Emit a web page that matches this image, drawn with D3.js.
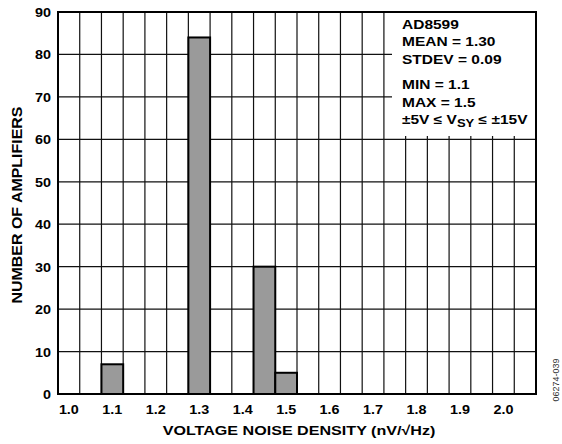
<!DOCTYPE html>
<html>
<head>
<meta charset="utf-8">
<script src="https://cdn.jsdelivr.net/npm/d3@7"></script>
<style>
  body { margin: 0; background: #fff; }
  svg text { font-family: "Liberation Sans", Arial, sans-serif; font-weight: bold; fill: #000; }
</style>
</head>
<body>
<div id="chart"></div>
<script>
// histogram data (bin centres, counts)
var binCenters = [1.1, 1.3, 1.45, 1.5]
var counts = [7, 84, 30, 5]
var binWidth = 0.05
var xTicks = [1.0, 1.1, 1.2, 1.3, 1.4, 1.5, 1.6, 1.7, 1.8, 1.9, 2.0]
var yTicks = [0, 10, 20, 30, 40, 50, 60, 70, 80, 90]
var legendLines = ['AD8599', 'MEAN = 1.30', 'STDEV = 0.09', 'MIN = 1.1', 'MAX = 1.5']

var W = 562, H = 444
var pL = 58, pR = 536, pT = 12, pB = 394

var svg = d3.select('#chart').append('svg').attr('width', W).attr('height', H)

var x = d3.scaleLinear().domain([0.975, 2.075]).range([pL, pR])
var y = d3.scaleLinear().domain([0, 90]).range([pB, pT])

// the original lettering is wider than Arial, so stretch it a bit
function label(px, py, sx, size, rot){
  var t = 'translate(' + px + ',' + py + ')' + (rot ? ' rotate(' + rot + ')' : '') + ' scale(' + sx + ',1)'
  return svg.append('text').attr('transform', t).attr('font-size', size)
}

// grid: vertical lines at bin edges
var edges = d3.range(1, 22).map(function(k){ return 0.975 + k*binWidth })
svg.append('g').selectAll('line').data(edges).enter().append('line')
  .attr('x1', function(d){ return x(d) }).attr('x2', function(d){ return x(d) })
  .attr('y1', pT).attr('y2', pB)
  .attr('stroke', '#111').attr('stroke-width', 1.2)

svg.append('g').selectAll('line').data(yTicks.slice(1, -1)).enter().append('line')
  .attr('x1', pL).attr('x2', pR)
  .attr('y1', function(d){ return y(d) }).attr('y2', function(d){ return y(d) })
  .attr('stroke', '#111').attr('stroke-width', 1.2)

// white box behind the stats text
svg.append('rect')
  .attr('x', 392).attr('y', pT).attr('width', pR - 392).attr('height', 136 - pT)
  .attr('fill', '#fff')

// bars
svg.append('g').selectAll('rect').data(binCenters).enter().append('rect')
  .attr('x', function(d){ return x(d - binWidth/2) })
  .attr('width', function(d){ return x(d + binWidth/2) - x(d - binWidth/2) })
  .attr('y', function(d, i){ return y(counts[i]) })
  .attr('height', function(d, i){ return pB - y(counts[i]) })
  .attr('fill', '#9a9a9a')
  .attr('stroke', '#000').attr('stroke-width', 2)

// frame
svg.append('rect')
  .attr('x', pL).attr('y', pT).attr('width', pR - pL).attr('height', pB - pT)
  .attr('fill', 'none').attr('stroke', '#000').attr('stroke-width', 2)

// tick labels
xTicks.forEach(function(d){
  label(x(d), 414, 1.15, 12.5).attr('text-anchor', 'middle').text(d.toFixed(1))
})
yTicks.forEach(function(d){
  label(51, y(d) + 5, 1.15, 12.5).attr('text-anchor', 'end').text(d)
})

// axis titles
label(299, 435, 1.24, 13).attr('text-anchor', 'middle')
  .text('VOLTAGE NOISE DENSITY (nV/\u221AHz)')

label(22, 205, 1.14, 14, -90).attr('text-anchor', 'middle')
  .text('NUMBER OF AMPLIFIERS')

// stats text
var ly = [28.5, 46, 63.5, 89, 106.5]
legendLines.forEach(function(d, i){
  label(402, ly[i], 1.24, 12.5).text(d)
})

var vs = label(402, 124, 1.24, 12.5)
vs.append('tspan').text('\u00B15V \u2264 V')
vs.append('tspan').attr('dy', 3).attr('font-size', 10.5).text('SY')
vs.append('tspan').attr('dy', -3).text(' \u2264 \u00B115V')

// figure code
svg.append('text')
  .attr('transform', 'translate(559,380) rotate(-90)')
  .attr('text-anchor', 'middle').attr('font-size', 9)
  .style('font-weight', 'normal').style('fill', '#333')
  .text('06274-039')
</script>
</body>
</html>
